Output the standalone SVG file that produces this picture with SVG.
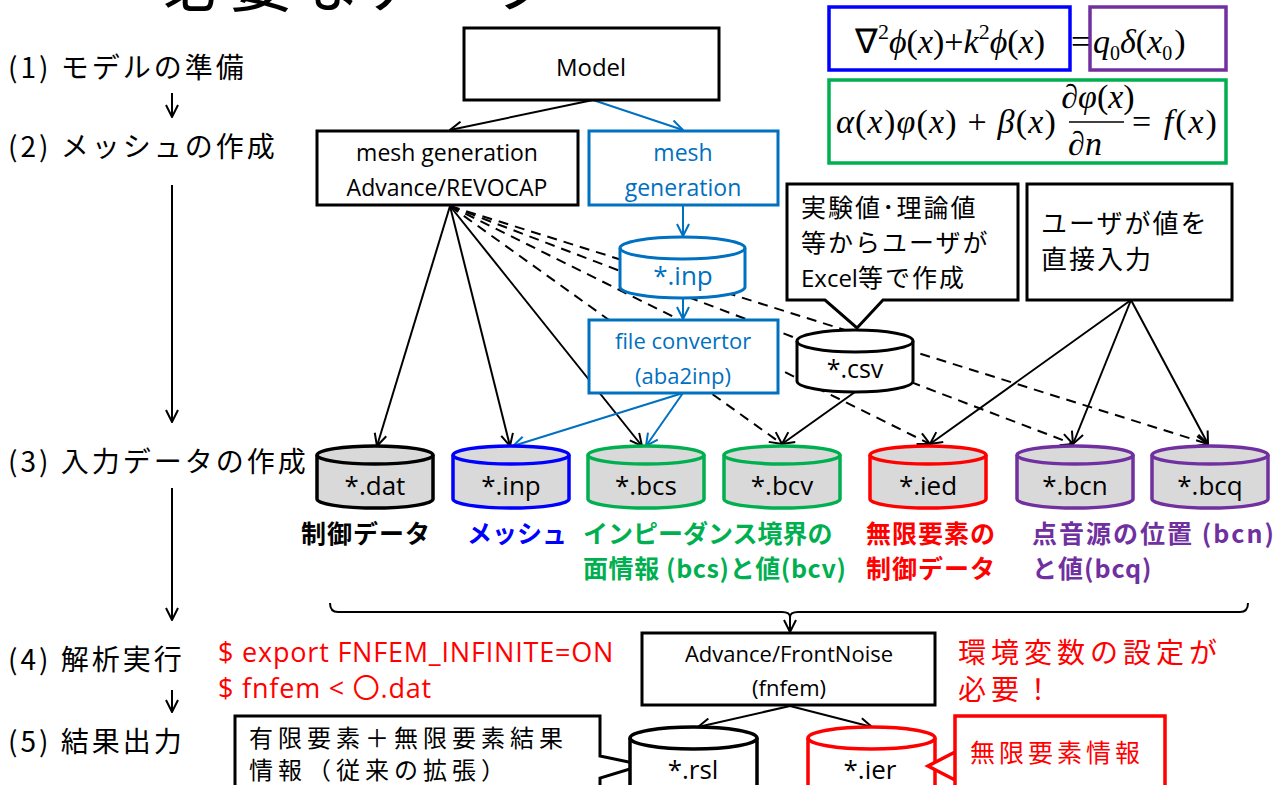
<svg xmlns="http://www.w3.org/2000/svg" width="1288" height="785" viewBox="0 0 1288 785">
<style>
text{font-family:"Open Sans","Noto Sans CJK JP",sans-serif;}
.jp{font-family:"Noto Sans CJK JP","Open Sans",sans-serif;}
.box{fill:#fff;stroke:#000;stroke-width:3;}
.bbox{fill:#fff;stroke:#0070C0;stroke-width:3;}
.cyl{fill:#D9D9D9;stroke-width:3.5;}
.ln{fill:none;stroke:#000;stroke-width:2;}
.lnb{fill:none;stroke:#0070C0;stroke-width:2;}
.dash{fill:none;stroke:#000;stroke-width:2;stroke-dasharray:10 7;}
.eq{font-family:"Liberation Serif",serif;font-size:34px;}
.it{font-style:italic;}
.lbl{font-weight:bold;font-size:25px;}
.cl{font-size:26px;}
</style>
<defs>
<marker id="ak" viewBox="0 0 14 14" refX="13" refY="7" markerWidth="14" markerHeight="14" orient="auto" markerUnits="userSpaceOnUse"><path d="M1,1 L13,7 L1,13" fill="none" stroke="#000" stroke-width="2"/></marker>
<marker id="ab" viewBox="0 0 14 14" refX="13" refY="7" markerWidth="14" markerHeight="14" orient="auto" markerUnits="userSpaceOnUse"><path d="M1,1 L13,7 L1,13" fill="none" stroke="#0070C0" stroke-width="2"/></marker>
</defs>

<!-- title (cut off at top edge, as in the reference) -->
<text id="title" class="jp" x="163" y="6" font-size="64" letter-spacing="2">必要なデータ</text>

<!-- left steps -->
<g id="steps" class="jp" font-size="28" letter-spacing="3">
<text class="jp" x="8" y="78">(1) モデルの準備</text>
<text class="jp" x="8" y="157">(2) メッシュの作成</text>
<text class="jp" x="8" y="472">(3) 入力データの作成</text>
<text class="jp" x="8" y="670">(4) 解析実行</text>
<text class="jp" x="8" y="752">(5) 結果出力</text>
</g>

<!-- connectors -->
<g id="connectors">
<line class="ln" x1="172" y1="93" x2="172" y2="117" marker-end="url(#ak)"/>
<line class="ln" x1="172" y1="185" x2="172" y2="422" marker-end="url(#ak)"/>
<line class="ln" x1="172" y1="488" x2="172" y2="620" marker-end="url(#ak)"/>
<line class="ln" x1="172" y1="690" x2="172" y2="712" marker-end="url(#ak)"/>

<line class="ln" x1="593" y1="100" x2="450" y2="130" marker-end="url(#ak)"/>
<line class="lnb" x1="593" y1="100" x2="683" y2="130" marker-end="url(#ab)"/>
<line class="lnb" x1="683" y1="205" x2="683" y2="236" marker-end="url(#ab)"/>
<line class="lnb" x1="683" y1="298" x2="683" y2="319" marker-end="url(#ab)"/>

<line class="ln" x1="450" y1="206" x2="377" y2="446" marker-end="url(#ak)"/>
<line class="ln" x1="450" y1="206" x2="510" y2="446" marker-end="url(#ak)"/>
<line class="ln" x1="450" y1="206" x2="642" y2="446" marker-end="url(#ak)"/>
<line class="dash" x1="450" y1="206" x2="782" y2="444" marker-end="url(#ak)"/>
<line class="dash" x1="450" y1="206" x2="930" y2="444" marker-end="url(#ak)"/>
<line class="dash" x1="450" y1="206" x2="1073" y2="444" marker-end="url(#ak)"/>
<line class="dash" x1="450" y1="206" x2="1208" y2="444" marker-end="url(#ak)"/>

<line class="lnb" x1="683" y1="393" x2="513" y2="446" marker-end="url(#ab)"/>
<line class="lnb" x1="683" y1="393" x2="646" y2="446" marker-end="url(#ab)"/>

<line class="ln" x1="855" y1="392" x2="782" y2="444" marker-end="url(#ak)"/>
<line class="ln" x1="1131" y1="300" x2="930" y2="444" marker-end="url(#ak)"/>
<line class="ln" x1="1131" y1="300" x2="1073" y2="444" marker-end="url(#ak)"/>
<line class="ln" x1="1131" y1="300" x2="1208" y2="444" marker-end="url(#ak)"/>

<path class="ln" d="M330,603 Q330,612 338,612 L782,612 Q790,612 790,617 Q790,612 798,612 L1240,612 Q1248,612 1248,603"/>
<line class="ln" x1="790" y1="614" x2="790" y2="632" marker-end="url(#ak)"/>

<line class="ln" x1="790" y1="706" x2="698" y2="727" marker-end="url(#ak)"/>
<line class="ln" x1="790" y1="706" x2="872" y2="727" marker-end="url(#ak)"/>
</g>

<!-- equations -->
<g id="eq1">
<rect x="829" y="7" width="241" height="63" fill="none" stroke="#0000FF" stroke-width="3.5"/>
<rect x="1090" y="7" width="136" height="63" fill="none" stroke="#7030A0" stroke-width="3.5"/>
<text class="eq" x="855" y="53">∇<tspan dy="-14" font-size="22">2</tspan><tspan dy="14" class="it">ϕ</tspan>(<tspan class="it">x</tspan>)+<tspan class="it">k</tspan><tspan dy="-14" font-size="22">2</tspan><tspan dy="14" class="it">ϕ</tspan>(<tspan class="it">x</tspan>)<tspan x="1071">=</tspan><tspan x="1093" class="it">q</tspan><tspan dy="7" font-size="20">0</tspan><tspan dy="-7" class="it">δ</tspan>(<tspan class="it">x</tspan><tspan dy="7" font-size="20">0</tspan><tspan dy="-7" dx="2">)</tspan></text>
</g>
<g id="eq2">
<rect x="829" y="80" width="397" height="83" fill="none" stroke="#00B050" stroke-width="3.5"/>
<text class="eq" x="836" y="133" letter-spacing="1.2"><tspan class="it">α</tspan>(<tspan class="it">x</tspan>)<tspan class="it">φ</tspan>(<tspan class="it">x</tspan>) + <tspan class="it">β</tspan>(<tspan class="it">x</tspan>)</text>
<text class="eq" x="1098" y="108" font-size="27" text-anchor="middle"><tspan class="it">∂φ</tspan>(<tspan class="it">x</tspan>)</text>
<line x1="1069" y1="122" x2="1124" y2="122" stroke="#000" stroke-width="1.5"/>
<text class="eq" x="1085" y="155" font-size="28" text-anchor="middle"><tspan class="it">∂n</tspan></text>
<text class="eq" x="1132" y="133" letter-spacing="2">= <tspan class="it">f</tspan>(<tspan class="it">x</tspan>)</text>
</g>

<!-- boxes -->
<g id="model"><rect class="box" x="464" y="28" width="255" height="72"/><text x="591" y="76" font-size="24" text-anchor="middle" font-family="Liberation Sans">Model</text></g>
<g id="meshgen"><rect class="box" x="317" y="131" width="261" height="74"/>
<text x="447" y="161" font-size="23" text-anchor="middle">mesh generation</text>
<text x="447" y="196" font-size="23" text-anchor="middle">Advance/REVOCAP</text></g>
<g id="meshgen2"><rect class="bbox" x="589" y="131" width="189" height="74"/>
<text x="683" y="161" font-size="23" text-anchor="middle" fill="#0070C0">mesh</text>
<text x="683" y="196" font-size="23" text-anchor="middle" fill="#0070C0">generation</text></g>
<g id="inp0">
<path d="M620,248 A62.5,11 0 0 1 745,248 V287 A62.5,11 0 0 1 620,287 Z" fill="#fff" stroke="#0070C0" stroke-width="3"/>
<path d="M620,248 A62.5,11 0 0 0 745,248" fill="none" stroke="#0070C0" stroke-width="3"/>
<text x="683" y="285" class="cl" text-anchor="middle" fill="#0070C0">*.inp</text></g>
<g id="conv"><rect class="bbox" x="589" y="320" width="189" height="73"/>
<text x="683" y="349" font-size="22" text-anchor="middle" fill="#0070C0">file convertor</text>
<text x="683" y="384" font-size="22" text-anchor="middle" fill="#0070C0">(aba2inp)</text></g>

<g id="note1">
<path class="box" d="M787,184 H1018 V300 H883 L857,328 L825,300 H787 Z"/>
<text class="jp" x="801" y="217" font-size="25" letter-spacing="2">実験値･理論値</text>
<text class="jp" x="801" y="252" font-size="25" letter-spacing="2">等からユーザが</text>
<text class="jp" x="801" y="287" font-size="25" letter-spacing="2"><tspan font-family="Open Sans" font-size="24" letter-spacing="0">Excel</tspan>等で作成</text>
</g>
<g id="note2"><rect class="box" x="1027" y="184" width="205" height="116"/>
<text class="jp" x="1041" y="233" font-size="26" letter-spacing="2">ユーザが値を</text>
<text class="jp" x="1041" y="269" font-size="26" letter-spacing="2">直接入力</text></g>

<g id="csv">
<path d="M797,341 A58,11 0 0 1 913,341 V381 A58,11 0 0 1 797,381 Z" fill="#fff" stroke="#000" stroke-width="3"/>
<path d="M797,341 A58,11 0 0 0 913,341" fill="none" stroke="#000" stroke-width="3"/>
<text x="855" y="378" font-size="25" text-anchor="middle">*.csv</text></g>

<!-- data cylinders -->
<g id="dat"><path class="cyl" stroke="#000" d="M317,455 A58,9 0 0 1 433,455 V499 A58,9 0 0 1 317,499 Z"/><path d="M317,455 A58,9 0 0 0 433,455" fill="none" stroke="#000" stroke-width="3.5"/><text x="375" y="495" class="cl" text-anchor="middle">*.dat</text></g>
<g id="inp"><path class="cyl" stroke="#0000FF" d="M453,455 A58,9 0 0 1 569,455 V499 A58,9 0 0 1 453,499 Z"/><path d="M453,455 A58,9 0 0 0 569,455" fill="none" stroke="#0000FF" stroke-width="3.5"/><text x="511" y="495" class="cl" text-anchor="middle">*.inp</text></g>
<g id="bcs"><path class="cyl" stroke="#00B050" d="M588,455 A58,9 0 0 1 704,455 V499 A58,9 0 0 1 588,499 Z"/><path d="M588,455 A58,9 0 0 0 704,455" fill="none" stroke="#00B050" stroke-width="3.5"/><text x="646" y="495" class="cl" text-anchor="middle">*.bcs</text></g>
<g id="bcv"><path class="cyl" stroke="#00B050" d="M724,455 A58,9 0 0 1 840,455 V499 A58,9 0 0 1 724,499 Z"/><path d="M724,455 A58,9 0 0 0 840,455" fill="none" stroke="#00B050" stroke-width="3.5"/><text x="782" y="495" class="cl" text-anchor="middle">*.bcv</text></g>
<g id="ied"><path class="cyl" stroke="#FF0000" d="M870,455 A58,9 0 0 1 986,455 V499 A58,9 0 0 1 870,499 Z"/><path d="M870,455 A58,9 0 0 0 986,455" fill="none" stroke="#FF0000" stroke-width="3.5"/><text x="928" y="495" class="cl" text-anchor="middle">*.ied</text></g>
<g id="bcn"><path class="cyl" stroke="#7030A0" d="M1017,455 A58,9 0 0 1 1133,455 V499 A58,9 0 0 1 1017,499 Z"/><path d="M1017,455 A58,9 0 0 0 1133,455" fill="none" stroke="#7030A0" stroke-width="3.5"/><text x="1075" y="495" class="cl" text-anchor="middle">*.bcn</text></g>
<g id="bcq"><path class="cyl" stroke="#7030A0" d="M1152,455 A58,9 0 0 1 1268,455 V499 A58,9 0 0 1 1152,499 Z"/><path d="M1152,455 A58,9 0 0 0 1268,455" fill="none" stroke="#7030A0" stroke-width="3.5"/><text x="1210" y="495" class="cl" text-anchor="middle">*.bcq</text></g>

<!-- labels -->
<g id="labels">
<text class="jp lbl" x="301" y="543" letter-spacing="1">制御データ</text>
<text class="jp lbl" x="467" y="543" fill="#0000FF">メッシュ</text>
<text class="jp lbl" x="583" y="543" fill="#00B050">インピーダンス境界の</text>
<text class="jp lbl" x="583" y="578" fill="#00B050" letter-spacing="0.6">面情報 (bcs)と値(bcv)</text>
<text class="jp lbl" x="866" y="543" fill="#FF0000" letter-spacing="1">無限要素の</text>
<text class="jp lbl" x="866" y="578" fill="#FF0000" letter-spacing="1">制御データ</text>
<text class="jp lbl" x="1032" y="543" fill="#7030A0" letter-spacing="2">点音源の位置 (bcn)</text>
<text class="jp lbl" x="1032" y="578" fill="#7030A0" letter-spacing="1">と値(bcq)</text>
</g>

<!-- step 4 -->
<g id="cmd" fill="#FF0000" font-size="27" letter-spacing="0.8">
<text x="218" y="662">$ export FNFEM_INFINITE=ON</text>
<text x="218" y="698">$ fnfem &lt; 〇.dat</text>
</g>
<g id="fnfem"><rect class="box" x="642" y="633" width="293" height="72"/>
<text x="789" y="662" font-size="22" text-anchor="middle">Advance/FrontNoise</text>
<text x="789" y="696" font-size="22" text-anchor="middle">(fnfem)</text></g>
<g id="envnote"><text class="jp" x="958" y="663" font-size="28" letter-spacing="5" fill="#FF0000">環境変数の設定が</text>
<text class="jp" x="958" y="700" font-size="28" letter-spacing="5" fill="#FF0000">必要！</text></g>

<!-- step 5 -->
<g id="note3">
<path class="box" d="M235,800 V716 H600 V756 L643,765 L600,778 V800"/>
<text class="jp" x="249" y="747" font-size="24" letter-spacing="5">有限要素＋無限要素結果</text>
<text class="jp" x="249" y="779" font-size="24" letter-spacing="5">情報（従来の拡張）</text>
</g>
<g id="rsl"><path d="M630,738 A63.5,11 0 0 1 757,738 V800 H630 Z" fill="#fff" stroke="#000" stroke-width="3.5"/><path d="M630,738 A63.5,11 0 0 0 757,738" fill="none" stroke="#000" stroke-width="3.5"/><text x="693" y="779" class="cl" text-anchor="middle">*.rsl</text></g>
<g id="ier"><path d="M808,738 A63.5,11 0 0 1 935,738 V800 H808 Z" fill="#fff" stroke="#FF0000" stroke-width="3.5"/><path d="M808,738 A63.5,11 0 0 0 935,738" fill="none" stroke="#FF0000" stroke-width="3.5"/><text x="870" y="779" class="cl" text-anchor="middle">*.ier</text></g>
<g id="note4">
<path d="M955,800 V716 H1165 V800 M955,800 V780 L928,766 L955,752" fill="#fff" stroke="#FF0000" stroke-width="3.5"/>
<text class="jp" x="970" y="762" font-size="25" letter-spacing="4" fill="#FF0000">無限要素情報</text>
</g>
</svg>
